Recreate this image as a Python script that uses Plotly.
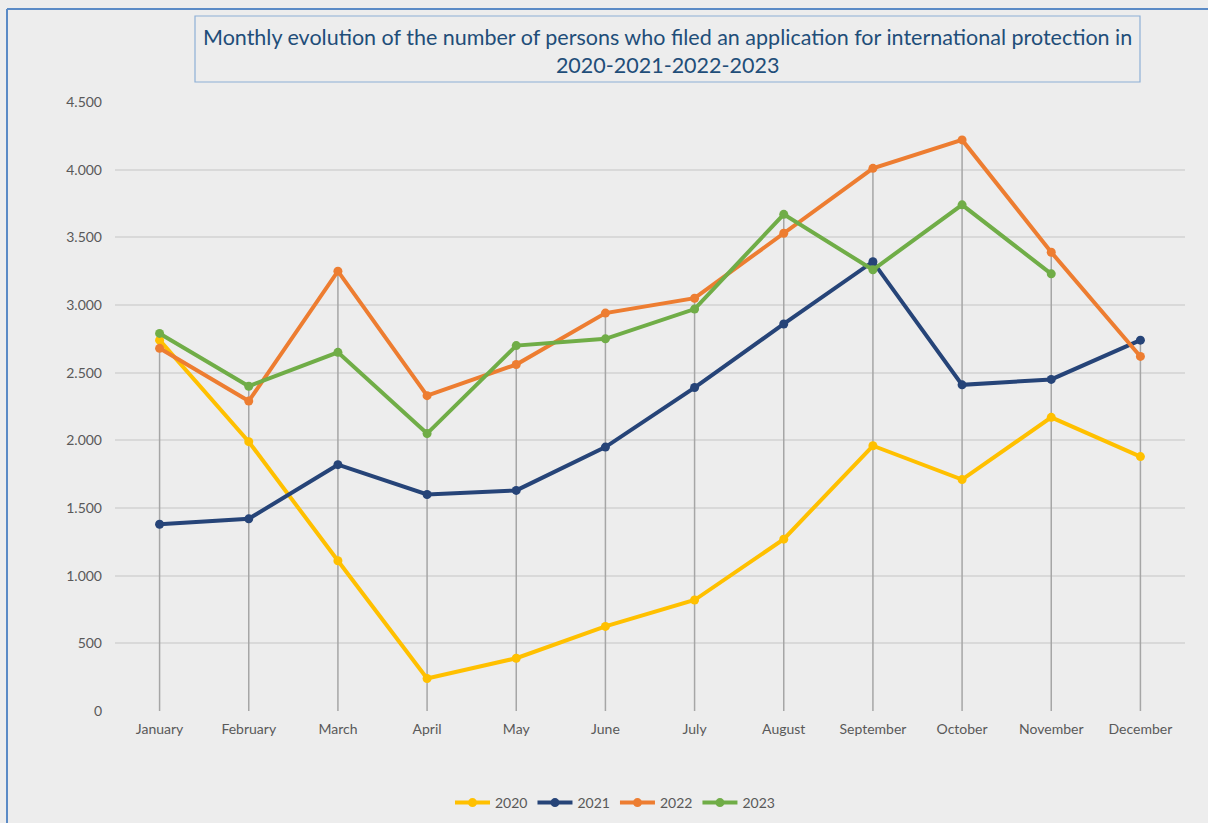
import plotly.graph_objects as go

months = ["January", "February", "March", "April", "May", "June", "July",
          "August", "September", "October", "November", "December"]
y2020 = [2740, 1990, 1110, 240, 390, 625, 820, 1270, 1960, 1710, 2170, 1880]
y2021 = [1380, 1420, 1820, 1600, 1630, 1950, 2390, 2860, 3320, 2410, 2450, 2740]
y2022 = [2680, 2290, 3250, 2330, 2560, 2940, 3050, 3530, 4010, 4220, 3390, 2620]
y2023 = [2790, 2400, 2650, 2050, 2700, 2750, 2970, 3670, 3260, 3740, 3230, None]

series = [("2020", y2020, "#FFC000"), ("2021", y2021, "#264478"),
          ("2022", y2022, "#ED7D31"), ("2023", y2023, "#70AD47")]

W, H = 1208, 823
L, R, T = 115, 23, 102
B = H - 711
pw, ph = W - L - R, H - T - B

def px(x):
    return (x - L) / pw

def py(y):
    return (H - B - y) / ph

FONT = "Lato"

fig = go.Figure()

# drop lines from 0 to highest value at each month
dx, dy = [], []
for i, m in enumerate(months):
    vals = [s[1][i] for s in series if s[1][i] is not None]
    dx += [m, m, None]
    dy += [0, max(vals), None]
fig.add_trace(go.Scatter(x=dx, y=dy, mode="lines", showlegend=False, hoverinfo="skip",
                         line=dict(color="#A6A6A6", width=1.5)))

for name, vals, col in series:
    fig.add_trace(go.Scatter(x=months, y=vals, name=name, mode="lines+markers",
                             line=dict(color=col, width=4),
                             marker=dict(color=col, size=9)))

fig.update_layout(
    width=W, height=H,
    margin=dict(l=L, r=R, t=T, b=B, autoexpand=False),
    paper_bgcolor="#EDEDED", plot_bgcolor="#EDEDED",
    separators=",.",
    font=dict(family=FONT, color="#595959", size=14),
    showlegend=True,
    legend=dict(orientation="h", x=px(615), xanchor="center", y=py(803), yanchor="middle",
                font=dict(size=14, color="#595959"), bgcolor="rgba(0,0,0,0)",
                itemwidth=35, tracegroupgap=0),
    xaxis=dict(type="category", range=[-0.5, 11.5], showgrid=False, zeroline=False,
               showline=False, ticks="", ticklabelstandoff=8, automargin=False,
               tickfont=dict(size=14, color="#595959")),
    yaxis=dict(range=[0, 4500], dtick=500, tickformat=",d", showgrid=True,
               gridcolor="#D9D9D9", gridwidth=1.5, zeroline=False, showline=False,
               ticks="", ticklabelstandoff=12, automargin=False,
               tickfont=dict(size=14, color="#595959")),
    shapes=[
        dict(type="rect", xref="paper", yref="paper", x0=px(195), x1=px(1140),
             y0=py(82), y1=py(16), line=dict(color="#8EB0D6", width=1.2), fillcolor="#EDEDED"),
        dict(type="line", xref="paper", yref="paper", x0=px(7), x1=px(1208),
             y0=py(9), y1=py(9), line=dict(color="#5B8BC6", width=2)),
        dict(type="line", xref="paper", yref="paper", x0=px(7), x1=px(7),
             y0=py(9), y1=py(H), line=dict(color="#5B8BC6", width=2)),
    ],
    annotations=[
        dict(xref="paper", yref="paper", x=px(667), y=py(51), xanchor="center", yanchor="middle",
             showarrow=False, align="center",
             text="Monthly evolution of the number of persons who filed an application for international protection in<br>2020-2021-2022-2023",
             font=dict(family=FONT, size=21.5, color="#1F4E79")),
    ],
)

fig.write_html("out.html", config={"displayModeBar": False},
               post_script="document.body.style.margin='0';document.body.style.overflow='hidden';document.body.style.background='#EDEDED';")
